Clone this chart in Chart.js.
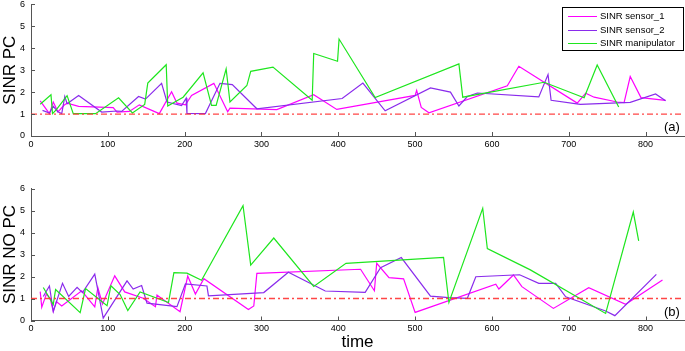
<!DOCTYPE html>
<html>
<head>
<meta charset="utf-8">
<script src="https://cdn.jsdelivr.net/npm/chart.js@4.4.1/dist/chart.umd.min.js"></script>
<style>
  body { margin: 0; background: #fff; width: 685px; height: 351px; position: relative; overflow: hidden; font-family: "Liberation Sans", Arial, sans-serif; }
  canvas { position: absolute; left: 0; }
  #chartPC { top: -7px; }
  #chartNoPC { top: 170px; }
  .legend { position: absolute; left: 562px; top: 7px; width: 122px; height: 44px; border: 1px solid #000; background: #fff; font-size: 9.5px; box-sizing: border-box; padding-top: 1px; }
  .legend div { height: 13.5px; line-height: 13.5px; white-space: nowrap; position: relative; padding-left: 37px; }
  .legend span { position: absolute; left: 5px; top: 7px; width: 29px; height: 1px; }
  .tag { position: absolute; font-size: 13px; line-height: 13px; }
</style>
</head>
<body>
<canvas id="chartPC" width="685" height="167"></canvas>
<canvas id="chartNoPC" width="685" height="181"></canvas>

<div class="legend">
  <div><span style="background: rgb(255, 0, 255)"></span>SINR sensor_1</div>
  <div><span style="background: rgb(138, 43, 236)"></span>SINR sensor_2</div>
  <div><span style="background: rgb(30, 230, 30)"></span>SINR manipulator</div>
</div>
<div class="tag" style="left: 664px; top: 120px;">(a)</div>
<div class="tag" style="left: 664px; top: 305px;">(b)</div>

<script>
// ---- data (time, SINR) ----
// (a) with power control
const s1TimePC = [12, 24, 29, 35, 43, 47, 62, 107, 112, 128, 141, 167, 183, 190, 201, 209, 238, 256, 259, 320, 368, 398, 500, 502, 508, 518, 620, 635, 711, 722, 733, 763, 772, 780, 794, 826];
const s1SinrPC = [1.6, 1.02, 1.55, 1.1, 1.4, 1.5, 1.35, 1.29, 1.09, 1.12, 1.42, 1.02, 2.02, 1.5, 1.42, 1.85, 2.4, 1.1, 1.27, 1.2, 1.88, 1.21, 1.85, 2.08, 1.3, 1.06, 2.29, 3.18, 1.5, 1.95, 1.77, 1.55, 1.52, 2.71, 1.75, 1.62];

const s2TimePC = [15, 24, 29, 35, 40, 44, 47, 62, 92, 112, 118, 140, 149, 170, 177, 196, 202, 203, 227, 246, 262, 294, 405, 432, 461, 520, 546, 557, 568, 581, 661, 673, 677, 715, 780, 813, 826];
const s2SinrPC = [1.17, 1.05, 1.35, 1.1, 1.02, 1.8, 1.47, 1.85, 1.09, 1.14, 1.12, 1.8, 1.68, 2.4, 1.55, 1.39, 1.72, 1.03, 1.02, 2.4, 2.34, 1.24, 1.71, 2.41, 1.15, 2.19, 2.0, 1.37, 1.8, 1.96, 1.78, 2.8, 1.63, 1.44, 1.53, 1.92, 1.61];

const manTimePC = [12, 26, 28, 33, 47, 55, 84, 114, 132, 148, 152, 176, 178, 198, 224, 235, 241, 254, 259, 281, 286, 315, 366, 368, 399, 401, 448, 557, 562, 668, 720, 737, 765];
const manSinrPC = [1.45, 1.88, 1.02, 1.2, 1.84, 1.02, 1.02, 1.74, 1.05, 1.44, 2.41, 3.25, 1.37, 1.77, 2.88, 1.4, 1.4, 3.06, 1.55, 2.3, 2.95, 3.14, 1.63, 3.76, 3.41, 4.42, 1.75, 3.29, 1.77, 2.45, 1.74, 3.24, 1.32];

// (b) without power control
const s1TimeNoPC = [12, 14, 20, 25, 29, 33, 40, 66, 83, 87, 93, 109, 122, 146, 162, 164, 194, 204, 214, 225, 283, 290, 294, 429, 447, 450, 466, 485, 500, 605, 609, 628, 639, 680, 726, 774, 822];
const s1SinrNoPC = [1.31, 0.6, 1.2, 1.0, 0.41, 0.86, 0.66, 1.35, 0.62, 1.5, 0.75, 2.03, 1.3, 1.01, 0.63, 1.16, 0.4, 2.02, 1.2, 1.9, 0.5, 0.66, 2.14, 2.33, 1.35, 2.6, 1.95, 1.89, 0.37, 1.65, 1.43, 2.07, 1.54, 0.55, 1.49, 0.74, 1.84];

const s2TimeNoPC = [16, 24, 29, 41, 49, 60, 67, 83, 94, 125, 133, 144, 151, 190, 201, 229, 231, 303, 335, 383, 435, 455, 482, 520, 544, 568, 579, 636, 661, 683, 696, 748, 760, 814];
const s2SinrNoPC = [1.09, 1.57, 0.41, 1.69, 1.09, 1.51, 1.27, 2.11, 0.11, 1.8, 1.43, 1.59, 0.79, 0.63, 1.66, 1.57, 1.12, 1.27, 2.19, 1.34, 1.28, 2.4, 2.86, 1.11, 1.04, 1.01, 1.99, 2.08, 1.69, 1.69, 1.08, 0.43, 0.22, 2.1];

const manTimeNoPC = [16, 29, 32, 64, 71, 99, 104, 116, 126, 142, 179, 186, 203, 222, 276, 286, 316, 368, 410, 537, 544, 588, 594, 650, 748, 784, 791];
const manSinrNoPC = [1.5, 0.73, 1.41, 0.36, 1.45, 0.67, 1.58, 1.18, 0.45, 1.3, 0.82, 2.18, 2.15, 1.83, 5.22, 2.52, 3.75, 1.55, 2.6, 2.87, 0.82, 5.1, 3.27, 2.3, 0.32, 4.93, 3.62];

const seriesNames = ['SINR sensor_1', 'SINR sensor_2', 'SINR manipulator'];
const sinrThreshold = 1;
const timeRange = [0, 850];
const sinrRange = [0, 6];

const colors = ['rgb(255, 0, 255)', 'rgb(138, 43, 236)', 'rgb(30, 230, 30)'];
const axisColor = '#555';

function pts(ts, vs) {
  return ts.map((t, i) => ({ x: t, y: vs[i] }));
}

// small inward tick marks like the original figure
const innerTicks = {
  id: 'innerTicks',
  afterDatasetsDraw(chart) {
    const { ctx, scales: { x, y } } = chart;
    ctx.save();
    ctx.strokeStyle = axisColor;
    ctx.lineWidth = 1;
    ctx.beginPath();
    x.ticks.forEach(t => {
      const px = Math.round(x.getPixelForValue(t.value)) + 0.5;
      ctx.moveTo(px, x.top);
      ctx.lineTo(px, x.top - 4);
    });
    y.ticks.forEach(t => {
      const py = Math.round(y.getPixelForValue(t.value)) + 0.5;
      ctx.moveTo(y.right, py);
      ctx.lineTo(y.right + 4, py);
    });
    ctx.stroke();
    ctx.restore();
  }
};

function makeChart(id, series, yTitle, xTitle, padTop, xAxisHeight) {
  const datasets = series.map((s, i) => ({
    label: seriesNames[i],
    data: pts(s[0], s[1]),
    borderColor: colors[i],
    borderWidth: 1.2,
    pointRadius: 0,
    tension: 0,
    order: 3 - i
  }));
  datasets.push({
    label: 'threshold',
    data: pts(timeRange, [sinrThreshold, sinrThreshold]),
    borderColor: 'rgba(255, 50, 50, 0.9)',
    borderWidth: 1.3,
    borderDash: [6, 3, 2, 3],
    pointRadius: 0,
    order: 0
  });

  return new Chart(document.getElementById(id), {
    type: 'line',
    data: { datasets: datasets },
    plugins: [innerTicks],
    options: {
      responsive: false,
      animation: false,
      layout: { padding: { top: padTop, right: 1, left: 0, bottom: 0 } },
      plugins: {
        legend: { display: false },
        tooltip: { enabled: false }
      },
      scales: {
        x: {
          type: 'linear',
          min: timeRange[0],
          max: timeRange[1],
          afterFit: s => { s.height = xAxisHeight; },
          border: { color: axisColor, width: 1 },
          grid: { drawOnChartArea: false, drawTicks: false },
          ticks: {
            stepSize: 100,
            includeBounds: false,
            padding: 3,
            maxRotation: 0,
            color: '#000',
            font: { family: 'Liberation Sans', size: 9 }
          },
          title: {
            display: !!xTitle,
            text: xTitle,
            color: '#000',
            padding: { top: 0, bottom: -2 },
            font: { family: 'Liberation Sans', size: 17 }
          }
        },
        y: {
          min: sinrRange[0],
          max: sinrRange[1],
          afterFit: s => { s.width = 31; },
          border: { color: axisColor, width: 1 },
          grid: { drawOnChartArea: false, drawTicks: false },
          ticks: {
            stepSize: 1,
            padding: 6,
            color: '#000',
            font: { family: 'Liberation Sans', size: 9 }
          },
          title: {
            display: true,
            text: yTitle,
            color: '#000',
            padding: 0,
            font: { family: 'Liberation Sans', size: 17 }
          }
        }
      }
    }
  });
}

const chartPC = makeChart('chartPC',
  [[s1TimePC, s1SinrPC], [s2TimePC, s2SinrPC], [manTimePC, manSinrPC]],
  'SINR PC', '', 0, 24);

const chartNoPC = makeChart('chartNoPC',
  [[s1TimeNoPC, s1SinrNoPC], [s2TimeNoPC, s2SinrNoPC], [manTimeNoPC, manSinrNoPC]],
  'SINR NO PC', 'time', 18.5, 30.5);
</script>
</body>
</html>
